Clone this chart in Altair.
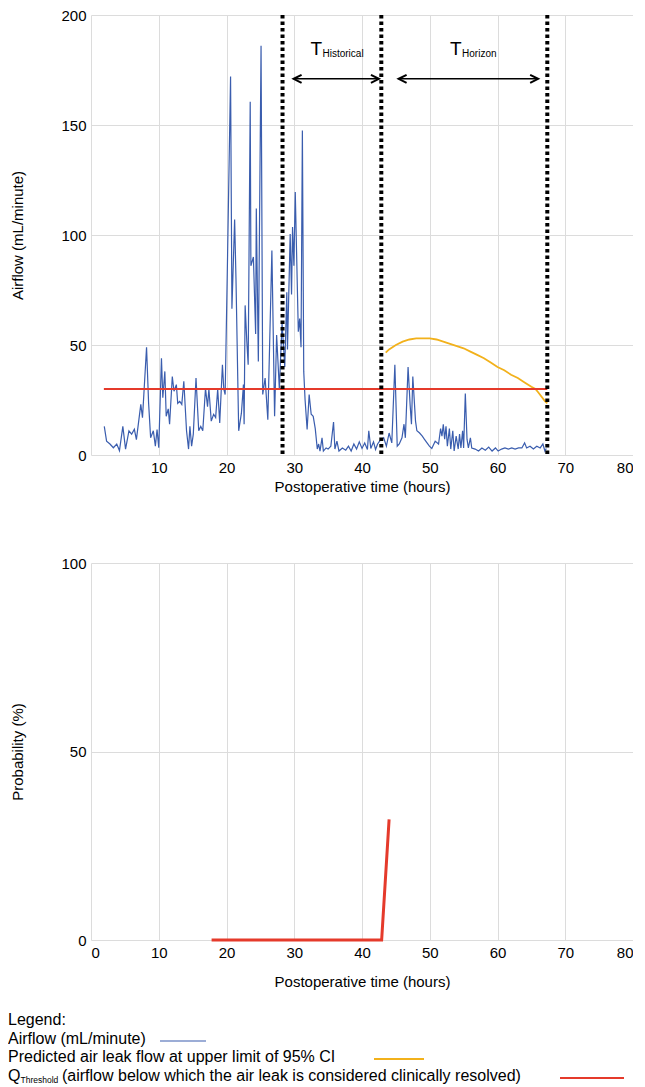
import altair as alt
import pandas as pd

# ---------------- data ----------------
hours = [1.96, 2.3, 2.8, 3.3, 3.8, 4.2, 4.7, 5.1, 5.6, 6.0, 6.4, 6.7, 7.35, 7.6, 7.8, 8.2, 8.5, 8.8,
         9.2, 9.5, 9.75, 10.0, 10.4, 10.6, 10.9, 11.1, 11.4, 11.6, 12.0, 12.25, 12.6, 12.8, 13.1, 13.4,
         13.7, 14.1, 14.4, 14.6, 14.85, 15.1, 15.5, 15.9, 16.2, 16.5, 16.9, 17.2, 17.4, 17.75, 18.1,
         18.4, 18.7, 19.0, 19.4, 19.6, 19.8, 20.1, 20.6, 20.8, 21.2, 21.4, 21.8, 22.2, 22.5, 22.6,
         22.75, 23.0, 23.2, 23.5, 23.6, 23.97, 24.3, 24.4, 24.7, 25.1, 25.35, 25.7, 26.1, 26.7, 27.1,
         27.4, 27.8, 28.2, 28.6, 28.9, 29.0, 29.4, 29.6, 29.75, 29.95, 30.15, 30.6, 30.8, 31.0, 31.2,
         31.4, 31.6, 31.9, 32.2, 32.5, 32.8, 33.1, 33.4, 33.6, 33.8, 34.1, 34.3, 34.7, 35.0, 35.4,
         35.8, 36.0, 36.3, 36.6, 37.1, 37.6, 38.0, 38.4, 38.8, 39.2, 39.6, 40.0, 40.4, 40.8, 41.0,
         41.3, 41.7, 42.0, 42.3, 42.6, 43.2, 43.6, 44.0, 44.4, 44.85, 45.2, 45.5, 45.9, 46.2, 46.4,
         46.8, 47.1, 47.3, 47.5, 47.9, 48.1, 48.5, 48.9, 49.2, 49.6, 49.95, 50.3, 50.8, 51.3, 51.6,
         51.8, 52.0, 52.2, 52.4, 52.6, 52.9, 53.1, 53.4, 53.6, 53.9, 54.2, 54.4, 54.6, 54.85, 55.0,
         55.25, 55.5, 55.7, 56.0, 56.2, 56.7, 57.2, 57.7, 58.2, 58.7, 59.2, 59.7, 60.1, 60.6, 61.1,
         61.6, 62.1, 62.6, 63.1, 63.6, 64.0, 64.3, 64.8, 65.3, 65.8, 66.3, 66.7, 67.0, 67.2]
airflow = [13, 6.3, 5, 3.3, 5, 2, 13, 2.7, 11, 9.5, 11.7, 7, 23, 17, 27.5, 49, 23.7, 7.8,
           11, 4, 11.6, 3.3, 44, 26, 38, 17.6, 21, 14, 35.7, 29, 32, 23.5, 24.4, 23,
           33.5, 11, 2.7, 13, 4, 9.5, 35, 11, 13, 11, 30.3, 22, 30, 15.4, 18.5,
           17, 30, 14.6, 41, 30, 27.5, 80, 172, 66.5, 107, 80, 11, 19, 32, 14,
           68, 51.6, 41, 160.6, 86, 90, 55, 112, 42.5, 186, 27.5, 35, 16, 93, 17.6,
           54.5, 30, 60, 40, 74, 48, 100.5, 73, 103.6, 86, 119.5, 56, 62, 49, 147.5,
           38, 25, 11.6, 27.5, 18.5, 17.6, 12, 2.7, 5, 1.8, 7.8, 1.8, 3.2, 2.7, 4,
           15, 2.7, 6.3, 1.8, 3.2, 2.2, 4, 1.8, 5, 2.7, 6, 3, 5.5, 2.5, 11,
           3, 6, 2.5, 5, 6.3, 7.8, 4, 10, 5.5, 41, 4, 5, 7.8, 14, 7.8,
           40, 23, 14, 35.7, 15.4, 11, 10, 8.6, 7.2, 5.5, 4, 3, 6.3, 5, 12,
           8.6, 14, 7.2, 13, 4, 12, 2.7, 11, 1.8, 8.6, 2.7, 9.5, 3.2, 11, 3.2,
           28, 7.2, 3.2, 7.8, 3.2, 2.7, 1.8, 3.2, 2.2, 3.6, 1.8, 3.2, 1.8, 2.7, 3.2,
           2.7, 3.2, 2.7, 3.2, 3.2, 5.5, 3.2, 4, 2.7, 4, 3.2, 5, 1.8, 3]

pred_hours = [43.5, 44, 45, 46, 47, 48, 49, 50, 51, 52, 53, 54, 55, 56, 57, 58, 59, 60, 61, 62,
              63, 64, 65, 65.6, 66, 67, 67.35]
pred_flow = [46.5, 48, 50, 51.5, 52.5, 53, 53, 53, 52.5, 51.5, 50.5, 49.5, 48.5, 47, 45.5, 44,
             42, 40, 38.5, 36.5, 35, 33, 31, 30, 28.5, 24.5, 23.5]

threshold_start = [1.9]
threshold_end = [67.35]
threshold_value = [30]

marker_hours = [28.27, 42.85, 67.35]

period_names = ["Historical", "Horizon"]
period_start = [29.9, 45.4]
period_end = [42.5, 66.0]
period_label_x = [32.4, 53.0]
arrow_level = 171
label_level = 184.6

prob_hours = [17.8, 42.9, 44.0]
prob_values = [0, 0, 32]

legend_labels = ["Legend:", "Airflow (mL/minute)",
                 "Predicted air leak flow at upper limit of 95% CI",
                 "(airflow below which the air leak is considered clinically resolved)"]

# ---------------- styling ----------------
FONT = "Liberation Sans"
BLUE = "#3a5dae"
YELLOW = "#f2b11b"
RED = "#e53a2b"
W = 542
H1 = 440
H2 = 377

x_axis_top = alt.Axis(values=list(range(0, 81, 10)), labelExpr="datum.value == 0 ? '' : datum.label",
                      title="Postoperative time (hours)", titlePadding=4)
y_axis_top = alt.Axis(values=[0, 50, 100, 150, 200], title="Airflow (mL/minute)", titlePadding=35)
xs_top = alt.Scale(domain=[0, 80], nice=False)
ys_top = alt.Scale(domain=[0, 200], nice=False)


def X(field="x"):
    return alt.X(f"{field}:Q", scale=xs_top, axis=x_axis_top)


def Y(field="y"):
    return alt.Y(f"{field}:Q", scale=ys_top, axis=y_axis_top)


flow_df = pd.DataFrame({"x": hours, "y": airflow})
pred_df = pd.DataFrame({"x": pred_hours, "y": pred_flow})
thr_df = pd.DataFrame({"x": threshold_start, "x2": threshold_end, "y": threshold_value})
mark_df = pd.DataFrame({"x": marker_hours})
per_df = pd.DataFrame({"x": period_start, "x2": period_end, "y": [arrow_level] * 2,
                       "lx": period_label_x, "ly": [label_level] * 2, "name": period_names})

flow = alt.Chart(flow_df).mark_line(color=BLUE, strokeWidth=1.2).encode(x=X(), y=Y())
pred = alt.Chart(pred_df).mark_line(color=YELLOW, strokeWidth=1.8).encode(x=X(), y=Y())
thr = alt.Chart(thr_df).mark_rule(color=RED, strokeWidth=2.2).encode(x=X(), x2="x2:Q", y=Y())
markers = alt.Chart(mark_df).mark_rule(color="black", strokeWidth=4, strokeDash=[3.5, 3]).encode(
    x=X(), y=alt.value(0), y2=alt.value(H1))
arrows = alt.Chart(per_df).mark_rule(color="black", strokeWidth=1.6).encode(x=X(), x2="x2:Q", y=Y())
head_r = alt.Chart(per_df).mark_point(shape="M -1 -0.5 L 0 0 L -1 0.5", size=256, filled=False,
                                      color="black", strokeWidth=2, opacity=1).encode(
    x=alt.X("x2:Q", scale=xs_top, axis=x_axis_top), y=Y())
head_l = alt.Chart(per_df).mark_point(shape="M 1 -0.5 L 0 0 L 1 0.5", size=256, filled=False,
                                      color="black", strokeWidth=2, opacity=1).encode(x=X(), y=Y())
t_main = alt.Chart(per_df).mark_text(text="T", font=FONT, fontSize=19, align="left",
                                     baseline="middle", color="black").encode(
    x=alt.X("lx:Q", scale=xs_top, axis=x_axis_top), y=alt.Y("ly:Q", scale=ys_top, axis=y_axis_top))
t_sub = alt.Chart(per_df).mark_text(font=FONT, fontSize=10, align="left", baseline="middle",
                                    dx=12, dy=5, color="black").encode(
    x=alt.X("lx:Q", scale=xs_top, axis=x_axis_top), y=alt.Y("ly:Q", scale=ys_top, axis=y_axis_top),
    text="name:N")

top = alt.layer(flow, pred, thr, markers, arrows, head_r, head_l, t_main, t_sub).properties(
    width=W, height=H1)

# ---------------- bottom chart ----------------
prob_df = pd.DataFrame({"x": prob_hours, "y": prob_values})
x_axis_bot = alt.Axis(values=list(range(0, 81, 10)), title="Postoperative time (hours)", titlePadding=14)
y_axis_bot = alt.Axis(values=[0, 50, 100], title="Probability (%)", titlePadding=35)
xs_bot = alt.Scale(domain=[0, 80], nice=False)
ys_bot = alt.Scale(domain=[0, 100], nice=False)

prob = alt.Chart(prob_df).mark_line(color=RED, strokeWidth=3).encode(
    x=alt.X("x:Q", scale=xs_bot, axis=x_axis_bot), y=alt.Y("y:Q", scale=ys_bot, axis=y_axis_bot))

one = alt.Data(values=[{"k": 0}])
LX = -83
leg_rows = [H2 + 80, H2 + 99, H2 + 117, H2 + 136]
leg_layers = []
for i, lab in enumerate(legend_labels):
    xx = LX + (54 if i == 3 else 0)
    leg_layers.append(alt.Chart(one).mark_text(text=lab, font=FONT, fontSize=16, align="left",
                                               baseline="middle", color="black").encode(
        x=alt.value(xx), y=alt.value(leg_rows[i])))
leg_layers.append(alt.Chart(one).mark_text(text="Q", font=FONT, fontSize=16, align="left",
                                           baseline="middle", color="black").encode(
    x=alt.value(LX), y=alt.value(leg_rows[3])))
leg_layers.append(alt.Chart(one).mark_text(text="Threshold", font=FONT, fontSize=8.5, align="left",
                                           baseline="middle", color="black").encode(
    x=alt.value(LX + 12.5), y=alt.value(leg_rows[3] + 4)))
leg_colors = [BLUE, YELLOW, RED]
leg_x0 = [LX + 152, LX + 366, LX + 552]
leg_x1 = [LX + 198, LX + 416, LX + 616]
for i in range(3):
    leg_layers.append(alt.Chart(one).mark_rule(color=leg_colors[i], strokeWidth=2 if i else 1.2).encode(
        x=alt.value(leg_x0[i]), x2=alt.value(leg_x1[i]), y=alt.value(leg_rows[i + 1] + 2)))

bottom = alt.layer(prob, *leg_layers).properties(width=W, height=H2)

chart = alt.vconcat(top, bottom, spacing=62).properties(
    padding={"left": 0, "top": 0, "right": 0, "bottom": 0}
).configure_view(stroke=None).configure_axis(
    grid=True, gridColor="#dcdcdc", gridWidth=1, domain=False, ticks=False,
    labelFont=FONT, labelFontSize=15, labelColor="black", labelPadding=5,
    titleFont=FONT, titleFontSize=15, titleFontWeight="normal", titleColor="black"
)

chart.save("out.html", embed_options={"renderer": "svg", "actions": False})
